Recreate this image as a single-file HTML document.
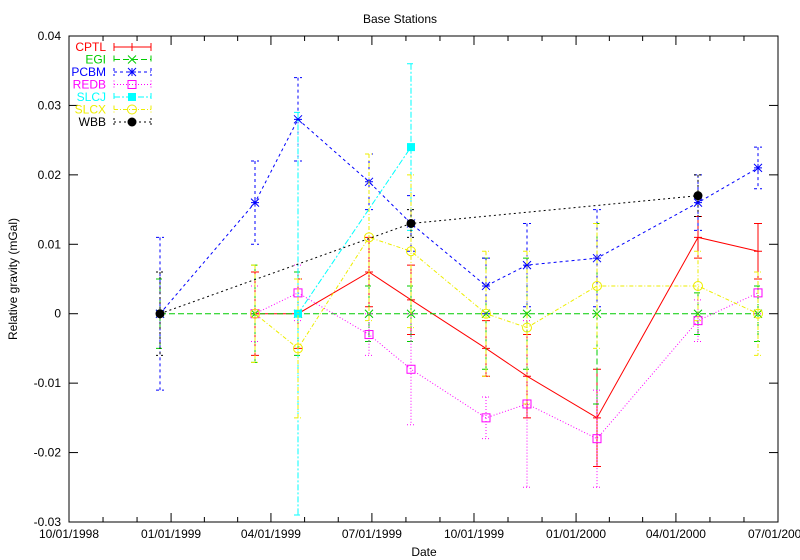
<!DOCTYPE html>
<html><head><meta charset="utf-8"><style>body{margin:0;background:#fff}svg{display:block}text{font-family:"Liberation Sans",sans-serif;font-size:12px}</style></head>
<body><svg id="s" width="800" height="560" xmlns="http://www.w3.org/2000/svg"></svg>
<script>
const s=document.getElementById('s');let h='';
const L=69,R=778,T=36,B=522;
const Y=v=>T+(0.04-v)/0.07*(B-T);
h+=`<text x="400" y="23" text-anchor="middle">Base Stations</text>`;
h+=`<text x="424" y="556" text-anchor="middle">Date</text>`;
h+=`<text transform="translate(17,279) rotate(-90)" text-anchor="middle">Relative gravity (mGal)</text>`;
h+=`<rect x="${L}" y="${T}" width="${R-L}" height="${B-T}" fill="none" stroke="#000"/>`;
for(let i=0;i<=7;i++){const v=0.04-i*0.01,y=Y(v);h+=`<line x1="${L}" y1="${y}" x2="${L+9}" y2="${y}" stroke="#000"/><line x1="${R}" y1="${y}" x2="${R-9}" y2="${y}" stroke="#000"/><text x="${L-8}" y="${y+4}" text-anchor="end">${v.toFixed(2).replace('-0.00','0').replace(/^0\.00$/,'0')}</text>`;}
const days=[0,92,182,273,365,457,547,639],labs=['10/01/1998','01/01/1999','04/01/1999','07/01/1999','10/01/1999','01/01/2000','04/01/2000','07/01/2000'];
const X=d=>L+d/639*(R-L);
days.forEach((d,i)=>{const x=X(d);h+=`<line x1="${x}" y1="${B}" x2="${x}" y2="${B-9}" stroke="#000"/><line x1="${x}" y1="${T}" x2="${x}" y2="${T+9}" stroke="#000"/><text x="${x}" y="538" text-anchor="middle">${labs[i]}</text>`;
if(i<7){for(let k=1;k<3;k++){const xm=X(d+(days[i+1]-d)*k/3);h+=`<line x1="${xm}" y1="${B}" x2="${xm}" y2="${B-5}" stroke="#000"/><line x1="${xm}" y1="${T}" x2="${xm}" y2="${T+5}" stroke="#000"/>`;}}});
const S=[
['CPTL','#f00','',[[255,0,.006],[298,0,.005],[369,.006,.005],[411,.002,.005],[486,-.005,.004],[527,-.009,.006],[597,-.015,.007],[698,.011,.003],[758,.009,.004]],'plus'],
['EGI','#0c0','6,3',[[160,0,.005],[255,0,.007],[298,0,.006],[369,0,.004],[411,0,.004],[486,0,.008],[527,0,.008],[597,0,.013],[698,0,.003],[758,0,.004]],'x'],
['PCBM','#00f','3,3',[[160,0,.011],[255,.016,.006],[298,.028,.006],[369,.019,.004],[411,.013,.004],[486,.004,.004],[527,.007,.006],[597,.008,.007],[698,.016,.004],[758,.021,.003]],'star'],
['REDB','#f0f','1,2',[[255,0,.004],[298,.003,.004],[369,-.003,.003],[411,-.008,.008],[486,-.015,.003],[527,-.013,.012],[597,-.018,.007],[698,-.001,.003],[758,.003,.003]],'sq'],
['SLCJ','#0ff','6,2,2,2',[[298,0,.029],[411,.024,.012]],'fsq'],
['SLCX','#ee0','4,2,1,2',[[255,0,.007],[298,-.005,.01],[369,.011,.012],[411,.009,.011],[486,0,.009],[527,-.002,.011],[597,.004,.009],[698,.004,.005],[758,0,.006]],'circ'],
['WBB','#000','2,3',[[160,0,.006],[411,.013,.002],[698,.017,.003]],'fcirc']];
function mk(t,x,y,c){switch(t){case'plus':return `<path d="M${x-4} ${y}h8M${x} ${y-4}v8" stroke="${c}"/>`;
case'x':return `<path d="M${x-4} ${y-4}l8 8M${x-4} ${y+4}l8 -8" stroke="${c}"/>`;
case'star':return `<path d="M${x-4} ${y}h8M${x} ${y-4}v8M${x-4} ${y-4}l8 8M${x-4} ${y+4}l8 -8" stroke="${c}"/>`;
case'sq':return `<rect x="${x-4}" y="${y-4}" width="8" height="8" fill="none" stroke="${c}"/>`;
case'fsq':return `<rect x="${x-4}" y="${y-4}" width="8" height="8" fill="${c}"/>`;
case'circ':return `<circle cx="${x}" cy="${y}" r="4.5" fill="none" stroke="${c}"/>`;
case'fcirc':return `<circle cx="${x}" cy="${y}" r="4.5" fill="${c}"/>`;}}
S.forEach((sr,i)=>{const [n,c,da,pts,m]=sr;let d='';
pts.forEach((p,j)=>{const x=p[0],y=Y(p[1]),a=Y(p[1]+p[2]),b=Y(p[1]-p[2]);d+=(j?'L':'M')+x+' '+y;
h+=`<path d="M${x} ${a}V${b}M${x-4} ${a}h8M${x-4} ${b}h8" stroke="${c}" stroke-dasharray="${da}" fill="none"/>`;});
h+=`<path d="${d}" stroke="${c}" stroke-dasharray="${da}" fill="none"/>`;
pts.forEach(p=>{h+=mk(m,p[0],Y(p[1]),c);});
const ly=47+i*12.5;h+=`<text x="106" y="${ly+4}" text-anchor="end" fill="${c}">${n}</text><path d="M114 ${ly}h37M114 ${ly-4}v8M151 ${ly-4}v8" stroke="${c}" stroke-dasharray="${da}" fill="none"/>`+mk(m,132,ly,c);});
s.innerHTML=h;
</script></body></html>
